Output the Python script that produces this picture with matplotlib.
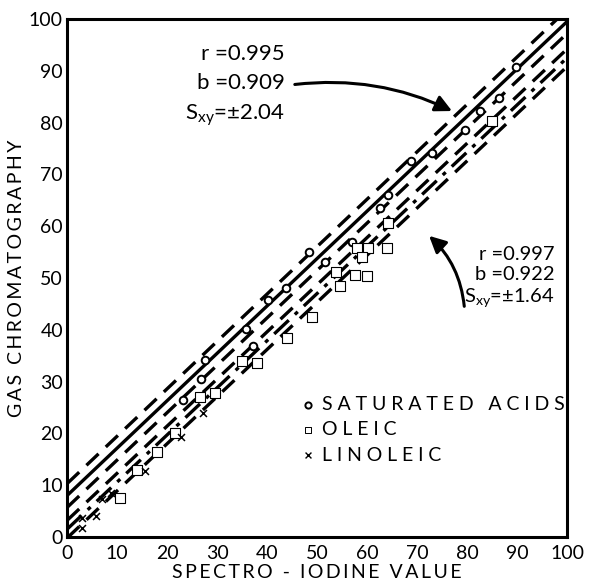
import numpy as np
import matplotlib.pyplot as plt

plt.rcParams['font.family'] = ['Lato', 'DejaVu Sans']

# saturated acids (circles)
sat_x = [89.8, 86.4, 82.6, 79.6, 73.0, 68.8, 64.2, 62.6, 57.0, 48.4, 51.6, 43.8, 40.2, 35.8, 37.2, 27.6, 26.8, 23.2]
sat_y = [90.7, 84.8, 82.2, 78.6, 74.1, 72.6, 66.0, 63.5, 57.0, 55.0, 53.1, 48.0, 45.8, 40.2, 36.9, 34.2, 30.5, 26.4]

# oleic (squares)
ole_x = [85.0, 64.2, 58.0, 60.2, 64.0, 59.0, 53.8, 57.6, 60.0, 54.6, 49.0, 44.0, 35.0, 38.0, 29.6, 26.5, 21.5, 18.0, 14.0, 10.5]
ole_y = [80.3, 60.6, 55.8, 55.8, 55.8, 54.0, 51.2, 50.6, 50.4, 48.5, 42.5, 38.5, 34.0, 33.6, 27.8, 27.0, 20.0, 16.5, 13.0, 7.5]

# linoleic (crosses)
lin_x = [27.2, 22.8, 15.6, 8.8, 7.0, 5.8, 3.0, 3.0]
lin_y = [23.9, 19.3, 12.7, 8.5, 7.3, 4.1, 3.7, 1.7]

# regression lines: intercept, slope, half band
upper_fit = (8.0, 0.915, 2.3)
lower_fit = (1.5, 0.91, 1.7)

ticks = list(range(0, 101, 10))

def spaced(s, gap='\u2009'):
    return gap.join(s)

fig = plt.figure(figsize=(5.99, 5.87), dpi=100)
ax = fig.add_axes([0.112, 0.0852, 0.8346, 0.8824])

xs = np.array([0, 100])
lw = 2.4
a, m, s = upper_fit
ax.plot(xs, a + s + m * xs, color='black', lw=lw, ls=(0, (5, 3)))
ax.plot(xs, a + m * xs, color='black', lw=lw, ls='-')
ax.plot(xs, a - s + m * xs, color='black', lw=lw, ls=(0, (5, 3)))
a, m, s = lower_fit
ax.plot(xs, a + s + m * xs, color='black', lw=lw, ls=(0, (5, 3)))
ax.plot(xs, a + m * xs, color='black', lw=lw, ls=(0, (6, 2.5, 1.2, 2.5)))
ax.plot(xs, a - s + m * xs, color='black', lw=lw, ls=(0, (5, 3)))

ax.scatter(sat_x, sat_y, s=30, marker='o', facecolors='white', edgecolors='black', linewidths=1.4, zorder=3)
ax.scatter(ole_x, ole_y, s=55, marker='s', facecolors='white', edgecolors='black', linewidths=0.8, zorder=3)
ax.scatter(lin_x, lin_y, s=25, marker='x', color='black', linewidths=1.1, zorder=3)

ax.set_xlim(0, 100)
ax.set_ylim(0, 100)
ax.set_xticks(ticks)
ax.set_yticks(ticks)
ax.set_xticks([10, 20, 30, 40], minor=True)
ax.set_yticks([10, 20, 30, 40, 50, 60, 70, 80, 90], minor=True)
ax.tick_params(which='major', length=0, labelsize=14, pad=6)
ax.tick_params(axis='y', which='major', pad=3)
ax.tick_params(which='minor', direction='in', length=14, width=1.8)
for sp in ax.spines.values():
    sp.set_linewidth(2.2)

ax.set_xlabel(spaced('SPECTRO - IODINE VALUE'), fontsize=14, labelpad=1)
ax.set_ylabel(spaced('GAS CHROMATOGRAPHY'), fontsize=14, labelpad=3)

# annotations
ax.text(43.5, 87.0, 'r =0.995\nb =0.909\nS$_{\\mathregular{xy}}$=±2.04', ha='right', va='center',
        fontsize=16, linespacing=1.55)
ax.annotate('', xy=(77.5, 82), xytext=(45, 87.3),
            arrowprops=dict(arrowstyle='-|>,head_length=1.0,head_width=0.5', color='black', lw=2.2,
                            connectionstyle='arc3,rad=-0.15'))
ax.text(97.5, 50, 'r =0.997\nb =0.922\nS$_{\\mathregular{xy}}$=±1.64', ha='right', va='center',
        fontsize=14.5, linespacing=1.25)
ax.annotate('', xy=(72, 58.5), xytext=(79.5, 44),
            arrowprops=dict(arrowstyle='-|>,head_length=1.0,head_width=0.5', color='black', lw=2.2,
                            connectionstyle='arc3,rad=0.2'))

# legend drawn as text
leg_y = [25.5, 20.7, 15.8]
leg_labels = ['SATURATED ACIDS', 'OLEIC', 'LINOLEIC']
ax.scatter([48.2], [leg_y[0]], s=20, marker='o', facecolors='white', edgecolors='black', linewidths=1.4)
ax.scatter([48.2], [leg_y[1]], s=25, marker='s', facecolors='white', edgecolors='black', linewidths=0.7)
ax.scatter([48.2], [leg_y[2]], s=18, marker='x', color='black', linewidths=1.0)
for yy, lab in zip(leg_y, leg_labels):
    ax.text(51, yy, spaced(lab, '\u2005'), ha='left', va='center', fontsize=14)

fig.savefig('out.png', dpi=100)
